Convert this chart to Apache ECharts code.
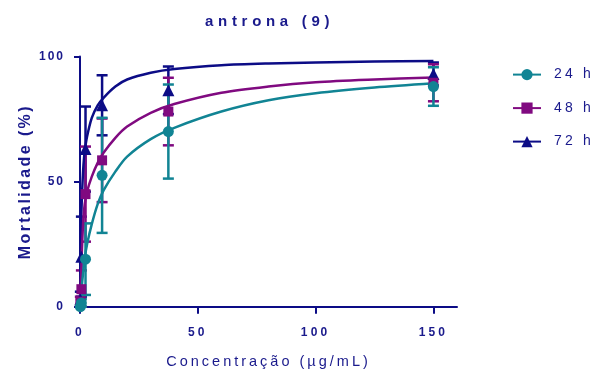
<!DOCTYPE html>
<html>
<head>
<meta charset="utf-8">
<script src="https://cdn.jsdelivr.net/npm/echarts@6/dist/echarts.min.js"></script>
<style>
html,body{margin:0;padding:0;background:#fff;}
#c{width:611px;height:379px;}
</style>
</head>
<body>
<div id="c"></div>
<script>
// letter spacing like the original (applied to canvas text, depending on font size)
(function(){
  var P = CanvasRenderingContext2D.prototype;
  var ft = P.fillText, mt = P.measureText;
  var MAP = {'15': '4.7px', '16': '2.4px', '14.5': '3px', '14': '3.2px', '12': '3.2px', '12.01': '2px'};
  function sp(font){
    var m = /(\d+(?:\.\d+)?)px/.exec(font || '');
    return (m && MAP[m[1]]) || '2.8px';
  }
  P.fillText = function(t, x, y, w){ this.letterSpacing = sp(this.font); return w === undefined ? ft.call(this, t, x, y) : ft.call(this, t, x, y, w); };
  P.measureText = function(t){ this.letterSpacing = sp(this.font); return mt.call(this, t); };
})();

// ---- data ----
var concentrations = [0.146, 0.586, 2.34, 9.375, 37.5, 150];
var mean24 = [0, 1.5, 19, 52.5, 70, 88];
var sd24   = [0, 1.5, 14.3, 23, 18.8, 7.7];
var mean48 = [2, 7, 45, 58.5, 78, 89.5];
var sd48   = [2, 7.5, 19, 16.7, 13.5, 7.4];
var mean72 = [3, 20, 63, 80.5, 86.5, 93];
var sd72   = [3, 16, 17, 12, 9.5, 4.6];

// fitted curves
var curveX  = [0, 0.25, 0.5, 1, 1.5, 2, 3, 5, 7.5, 10, 15, 20, 30, 40, 60, 80, 100, 125, 150];
var curve24 = [0, 2.5, 5, 10.5, 15, 19.5, 25, 33, 41, 46.5, 54, 60, 67, 71.5, 78, 82.5, 85.3, 87.6, 89.3];
var curve48 = [0, 7, 14, 27, 36, 41, 46, 52, 57.5, 61.5, 67.5, 72, 77.5, 81, 85.5, 88, 89.7, 90.8, 91.6];
var curve72 = [0, 22, 35, 48, 57, 62, 68, 75.5, 80.5, 83.5, 88, 90.8, 93.5, 95, 96.5, 97.2, 97.6, 98, 98.2];

var xTicks = [0, 50, 100, 150];
var yTicks = [0, 50, 100];
var names = ['24 h', '48 h', '72 h'];

var C24 = '#118494', C48 = '#800a80', C72 = '#0c0c86';
var NAVY = '#0c0c86', TXT = '#1a1a8c';
var FONT = 'Liberation Sans';

function pairs(xs, ys){ return xs.map(function(x, i){ return [x, ys[i]]; }); }
function errs(xs, m, s){ return xs.map(function(x, i){ return [x, Math.max(0, m[i] - s[i]), m[i] + s[i]]; }); }

function errSeries(color, data){
  return {
    type: 'custom', data: data, z: 2, silent: true,
    renderItem: function(params, api){
      var x = api.value(0), lo = api.value(1), hi = api.value(2);
      var p1 = api.coord([x, lo]), p2 = api.coord([x, hi]);
      var hw = 5.5;
      var st = {stroke: color, lineWidth: 2.5};
      var kids = [{type: 'line', shape: {x1: p1[0], y1: p1[1], x2: p2[0], y2: p2[1]}, style: st}];
      if (hi - lo > 0.01) {
        kids.push({type: 'line', shape: {x1: p1[0]-hw, y1: p1[1], x2: p1[0]+hw, y2: p1[1]}, style: st});
        kids.push({type: 'line', shape: {x1: p2[0]-hw, y1: p2[1], x2: p2[0]+hw, y2: p2[1]}, style: st});
      }
      return {type: 'group', children: kids};
    }
  };
}
function curveSeries(name, color, sym, data){
  return {
    name: name, type: 'line', data: data, smooth: 0.3, symbol: sym, showSymbol: false,
    lineStyle: {color: color, width: 2.5}, itemStyle: {color: color}, z: 3, silent: true
  };
}
function pointSeries(color, sym, size, data){
  return {
    type: 'scatter', data: data, symbol: sym, symbolSize: size,
    itemStyle: {color: color, opacity: 1}, z: 4, silent: true
  };
}

var chart = echarts.init(document.getElementById('c'), null, {renderer: 'canvas'});
chart.setOption({
  animation: false,
  backgroundColor: '#fff',
  title: {
    text: 'antrona (9)', left: 200, top: 7,
    textStyle: {fontFamily: FONT, fontSize: 15, fontWeight: 'bold', color: TXT}
  },
  legend: {
    data: names.slice(), orient: 'vertical', left: 507, top: 61,
    itemWidth: 28, itemHeight: 14, itemGap: 16.3,
    textStyle: {fontFamily: FONT, fontSize: 14, color: TXT, padding: [0, 0, 0, 8]}
  },
  grid: {left: 80, right: 154, top: 56.5, bottom: 72.3, containLabel: false, outerBoundsMode: 'none'},
  xAxis: {
    type: 'value', min: 0, max: 160, interval: 50,
    name: 'Concentração (µg/mL)', nameLocation: 'middle', nameGap: 46, nameMoveOverlap: false,
    nameTextStyle: {fontFamily: FONT, fontSize: 14.5, color: TXT},
    axisLine: {show: true, onZero: false, lineStyle: {color: NAVY, width: 2}},
    axisTick: {show: true, length: 7, customValues: xTicks, lineStyle: {color: NAVY, width: 2}},
    axisLabel: {customValues: xTicks, margin: 18, fontFamily: FONT, fontSize: 12, fontWeight: 'bold', color: TXT},
    splitLine: {show: false}
  },
  yAxis: {
    type: 'value', min: 0, max: 100, interval: 50,
    name: 'Mortalidade (%)', nameLocation: 'middle', nameGap: 45, nameRotate: 90, nameMoveOverlap: false,
    nameTextStyle: {fontFamily: FONT, fontSize: 16, fontWeight: 'bold', color: TXT},
    axisLine: {show: true, onZero: false, lineStyle: {color: NAVY, width: 2}},
    axisTick: {show: true, length: 6, customValues: yTicks, lineStyle: {color: NAVY, width: 2}},
    axisLabel: {customValues: yTicks, margin: 15, padding: [5, 0, 0, 0], fontFamily: FONT, fontSize: 12.01, fontWeight: 'bold', color: TXT},
    splitLine: {show: false}
  },
  series: [
    errSeries(C72, errs(concentrations, mean72, sd72)),
    errSeries(C48, errs(concentrations, mean48, sd48)),
    errSeries(C24, errs(concentrations, mean24, sd24)),
    curveSeries('72 h', C72, 'triangle', pairs(curveX, curve72)),
    curveSeries('48 h', C48, 'rect', pairs(curveX, curve48)),
    curveSeries('24 h', C24, 'circle', pairs(curveX, curve24)),
    pointSeries(C72, 'triangle', 12, pairs(concentrations, mean72)),
    pointSeries(C48, 'rect', 10, pairs(concentrations, mean48)),
    pointSeries(C24, 'circle', 11, pairs(concentrations, mean24))
  ]
});
</script>
</body>
</html>
